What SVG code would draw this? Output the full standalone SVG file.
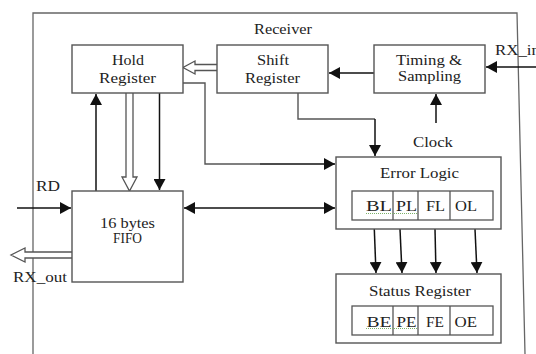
<svg xmlns="http://www.w3.org/2000/svg" width="536" height="354" viewBox="0 0 536 354">
  <style>
    .box { fill: #ffffff; stroke: #555555; stroke-width: 1.4; }
    .cell { fill: #ffffff; stroke: #555555; stroke-width: 1.3; }
    .frame { fill: none; stroke: #666666; stroke-width: 1.3; }
    .wire { fill: none; stroke: #111111; stroke-width: 1.5; }
    .gwire { fill: none; stroke: #555555; stroke-width: 1.4; }
    .bus { fill: #ffffff; stroke: #555555; stroke-width: 1.3; }
    .squig { fill: none; stroke: #7cb36a; stroke-width: 1; stroke-dasharray: 1 1; }
    text { font-family: "Liberation Serif", "Times New Roman", serif; font-size: 15px; fill: #222222; }
    .c { text-anchor: middle; }
  </style>
  <defs>
    <marker id="ah" markerUnits="userSpaceOnUse" markerWidth="11" markerHeight="12" refX="11" refY="6" orient="auto-start-reverse" viewBox="0 0 11 12">
      <path d="M0,0 L11,6 L0,12 Z" fill="#111111"/>
    </marker>
  </defs>

  <rect width="536" height="354" fill="#ffffff"/>

  <!-- receiver frame -->
  <path class="frame" d="M33,354 V13 H517 L525,354"/>
  <text class="c" x="283" y="34" textLength="58" lengthAdjust="spacingAndGlyphs">Receiver</text>

  <!-- connectors -->
  <g id="connectors">
    <!-- serial input -->
    <line class="wire" x1="536" y1="67" x2="486" y2="67" marker-end="url(#ah)"/>
    <text x="495" y="55" textLength="45" lengthAdjust="spacingAndGlyphs">RX_in</text>
    <!-- timing to shift register -->
    <line class="wire" x1="374" y1="73" x2="329" y2="73" marker-end="url(#ah)"/>
    <!-- clock -->
    <line class="wire" x1="436" y1="123" x2="436" y2="94" marker-end="url(#ah)"/>
    <text class="c" x="433" y="147" textLength="40" lengthAdjust="spacingAndGlyphs">Clock</text>
    <!-- shift register to error logic -->
    <polyline class="gwire" points="298,93 298,119 375,119"/>
    <line class="wire" x1="375" y1="119" x2="375" y2="156" marker-end="url(#ah)"/>
    <!-- hold register to error logic -->
    <polyline class="gwire" points="183,83 205,83 205,164 260,164"/>
    <line class="wire" x1="260" y1="164" x2="335" y2="164" marker-end="url(#ah)"/>
    <!-- fifo to error logic, both ways -->
    <line class="wire" x1="184" y1="208" x2="335" y2="208" marker-start="url(#ah)" marker-end="url(#ah)"/>
    <!-- fifo to hold register -->
    <line class="wire" x1="96" y1="191" x2="96" y2="94" marker-end="url(#ah)"/>
    <!-- hold register to fifo -->
    <line class="wire" x1="159.5" y1="93" x2="159.5" y2="190" marker-end="url(#ah)"/>
    <!-- parallel bus: hold register to fifo -->
    <path class="bus" d="M126,93 V177 H122 L129.5,191 L137,177 H133 V93"/>
    <!-- parallel bus: shift register to hold register -->
    <path class="bus" d="M217,64.5 H195 V61 L183,67.5 L195,74 V70.5 H217"/>
    <!-- read strobe -->
    <line class="wire" x1="17" y1="208" x2="71" y2="208" marker-end="url(#ah)"/>
    <text x="36" y="191" textLength="24" lengthAdjust="spacingAndGlyphs">RD</text>
    <!-- parallel output -->
    <path class="bus" d="M72,252 H25 V248 L11,255 L25,262 V258 H72"/>
    <text x="13" y="282" textLength="54" lengthAdjust="spacingAndGlyphs">RX_out</text>
    <!-- error flags to status register -->
    <line class="wire" x1="374.3" y1="229" x2="376" y2="273" marker-end="url(#ah)"/>
    <line class="wire" x1="400" y1="229" x2="402" y2="273" marker-end="url(#ah)"/>
    <line class="wire" x1="435" y1="229" x2="436" y2="273" marker-end="url(#ah)"/>
    <line class="wire" x1="475" y1="229" x2="477" y2="273" marker-end="url(#ah)"/>
  </g>

  <!-- nodes -->
  <g id="hold-register">
    <rect class="box" x="72" y="45" width="111" height="48"/>
    <text class="c" x="128" y="65" textLength="32" lengthAdjust="spacingAndGlyphs">Hold</text>
    <text class="c" x="127.5" y="82.5" textLength="57" lengthAdjust="spacingAndGlyphs">Register</text>
  </g>

  <g id="shift-register">
    <rect class="box" x="217" y="45" width="111" height="48"/>
    <text class="c" x="273" y="65" textLength="32" lengthAdjust="spacingAndGlyphs">Shift</text>
    <text class="c" x="272.5" y="83" textLength="55" lengthAdjust="spacingAndGlyphs">Register</text>
  </g>

  <g id="timing-sampling">
    <rect class="box" x="374" y="45" width="111" height="48"/>
    <text class="c" x="429" y="65" textLength="66" lengthAdjust="spacingAndGlyphs">Timing &amp;</text>
    <text class="c" x="429.5" y="81" textLength="63" lengthAdjust="spacingAndGlyphs">Sampling</text>
  </g>

  <g id="fifo">
    <rect class="box" x="72" y="191" width="111" height="91"/>
    <text class="c" x="127.5" y="228" textLength="55" lengthAdjust="spacingAndGlyphs">16 bytes</text>
    <text class="c" x="127.5" y="242.5" textLength="29" lengthAdjust="spacingAndGlyphs">FIFO</text>
  </g>

  <g id="error-logic">
    <rect class="box" x="336" y="157" width="165" height="72"/>
    <text class="c" x="419.5" y="178" textLength="79" lengthAdjust="spacingAndGlyphs">Error Logic</text>
    <rect class="cell" x="352" y="191" width="141" height="29"/>
    <line class="cell" x1="393" y1="191" x2="393" y2="220"/>
    <line class="cell" x1="418" y1="191" x2="418" y2="220"/>
    <line class="cell" x1="450" y1="191" x2="450" y2="220"/>
    <text x="366" y="211" textLength="26" lengthAdjust="spacingAndGlyphs">BL</text>
    <text x="396" y="211" textLength="21" lengthAdjust="spacingAndGlyphs">PL</text>
    <text x="426" y="211" textLength="19" lengthAdjust="spacingAndGlyphs">FL</text>
    <text x="455" y="211" textLength="22" lengthAdjust="spacingAndGlyphs">OL</text>
    <line class="squig" x1="366" y1="213.5" x2="417" y2="213.5"/>
  </g>

  <g id="status-register">
    <rect class="box" x="336" y="274" width="165" height="69"/>
    <text class="c" x="420" y="296" textLength="102" lengthAdjust="spacingAndGlyphs">Status Register</text>
    <rect class="cell" x="352" y="306" width="141" height="29"/>
    <line class="cell" x1="393" y1="306" x2="393" y2="335"/>
    <line class="cell" x1="418" y1="306" x2="418" y2="335"/>
    <line class="cell" x1="450" y1="306" x2="450" y2="335"/>
    <text x="366.5" y="327" textLength="25" lengthAdjust="spacingAndGlyphs">BE</text>
    <text x="396.5" y="327" textLength="20" lengthAdjust="spacingAndGlyphs">PE</text>
    <text x="426" y="327" textLength="18" lengthAdjust="spacingAndGlyphs">FE</text>
    <text x="454.5" y="327" textLength="22.5" lengthAdjust="spacingAndGlyphs">OE</text>
    <line class="squig" x1="366" y1="328.5" x2="417" y2="328.5"/>
  </g>
</svg>
